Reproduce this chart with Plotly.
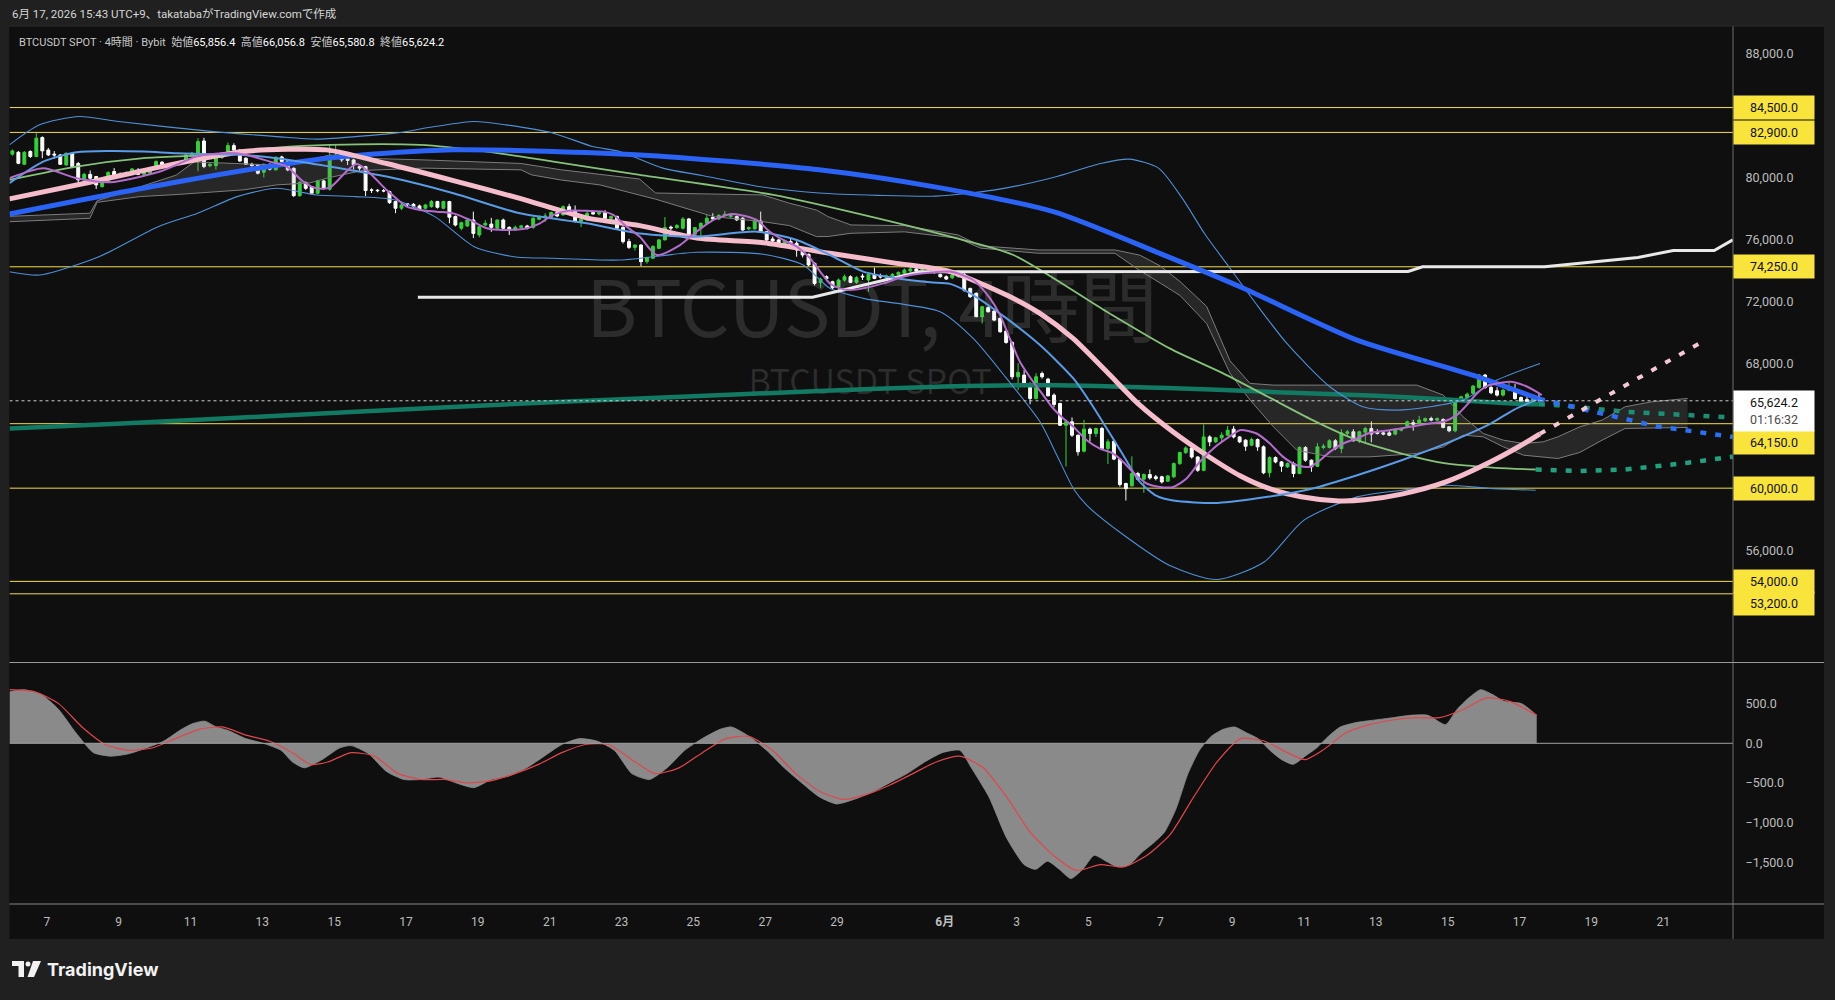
import pandas as pd
import plotly.graph_objects as go

W, H = 1835, 1000
FONT = "Roboto, 'Noto Sans CJK JP', 'DejaVu Sans', sans-serif"
JP = "'Noto Sans CJK JP', Roboto, sans-serif"

# ---------------- data ----------------
T0 = pd.Timestamp("2026-05-07 00:00")          # day offsets below are relative to this
candle_start = "2026-05-06 01:00"               # 4h candles (JST)

c_open = [81500, 81620, 80850, 81670, 81350, 82570, 81770, 81500, 81450, 80810,
          81560, 80900, 79840, 80200, 80060, 79410, 79730, 80380, 80160, 80230,
          80200, 80420, 80200, 80270, 80550, 80980, 80760, 80810, 80850, 81130,
          81450, 81500, 82350, 80760, 80760, 81280, 81670, 82050, 81770, 81240,
          80850, 80810, 80340, 80850, 80490, 81320, 81060, 80590, 78830, 79670,
          79410, 78980, 79780, 79240, 81350, 81450, 81200, 81130, 80700, 80700,
          79200, 79180, 79150, 79090, 78450, 78020, 78300, 78270, 78170, 78020,
          78120, 78450, 78020, 78450, 77480, 76730, 76880, 77260, 76300, 76940,
          77000, 76730, 77260, 76790, 76620, 76790, 76880, 76790, 77310, 77440,
          77440, 77740, 77590, 78120, 77870, 77160, 77260, 77740, 77650, 77740,
          77370, 77480, 76790, 75870, 75500, 75650, 74580, 74800, 75440, 75980,
          76800, 76770, 76730, 77330, 76340, 76770, 77050, 77420, 77330, 77550,
          77480, 77480, 77370, 76690, 76690, 77200, 76510, 76040, 75980, 75650,
          75870, 75760, 75330, 75050, 74470, 73250, 73610, 73290, 72970, 73400,
          73610, 73250, 73650, 73400, 73760, 73650, 73550, 73660, 73760, 73830,
          73980, 74110, 74040, 74150, 74040, 73760, 73610, 73550, 73610, 73760,
          72860, 72540, 71040, 71620, 71400, 70930, 70110, 69380, 67170, 67280,
          66740, 65770, 67380, 67020, 65990, 65450, 64050, 64270, 63410, 62380,
          63800, 63520, 63840, 62550, 63020, 61870, 60300, 60150, 60940, 60580,
          60880, 60730, 60730, 60450, 60730, 61580, 62290, 62590, 62010, 61150,
          63300, 62980, 63240, 63410, 63800, 63300, 63090, 62770, 63130, 62660,
          60990, 61970, 61690, 61370, 61590, 60940, 62620, 61800, 61410, 62620,
          62620, 63050, 62550, 63520, 63630, 63050, 63600, 63840, 63630, 63560,
          63560, 63480, 63730, 63990, 64210, 64160, 64330, 64480, 64380, 64420,
          63950, 63690, 65670, 65840, 66100, 66480, 67280, 66480, 66270, 65990,
          66310, 66350, 65840, 65710, 65560, 65856.4]
c_high = [81800, 81700, 81700, 81750, 82850, 82650, 81900, 81700, 81500, 81600,
          81600, 81000, 80300, 80450, 80100, 79800, 80400, 80600, 80350, 80400,
          80600, 80600, 80500, 80650, 81100, 81050, 80900, 80950, 81050, 81500,
          81650, 82530, 82550, 80900, 81300, 81500, 82250, 82200, 81800, 81300,
          80950, 80850, 80900, 80900, 81350, 81400, 81100, 80650, 79750, 79750,
          79450, 79850, 79850, 82100, 82100, 81650, 81650, 81200, 80750, 80750,
          79300, 79250, 79250, 79150, 78500, 78300, 78350, 78350, 78250, 78300,
          78550, 78500, 78500, 78500, 77550, 77150, 77300, 77800, 76900, 77250,
          77400, 77300, 77350, 76850, 76900, 76950, 76950, 77450, 77550, 77700,
          77800, 77800, 78200, 78300, 78200, 77400, 77900, 77800, 77850, 77900,
          77550, 77550, 76850, 76050, 75700, 75700, 74900, 75650, 76050, 77450,
          76900, 77000, 77450, 77400, 76800, 77100, 77600, 77700, 77650, 77850,
          77700, 77550, 77450, 76850, 77250, 77800, 76550, 76200, 76050, 76000,
          76100, 75900, 75400, 75100, 74550, 73550, 73700, 73350, 73500, 73750,
          73700, 73650, 73800, 73850, 74200, 73800, 73750, 73850, 73950, 74150,
          74250, 74200, 74250, 74250, 74100, 73800, 73700, 74050, 74050, 73850,
          72900, 72600, 71750, 71700, 71450, 71000, 70150, 69450, 68050, 67600,
          66800, 67400, 67500, 67100, 66100, 65500, 64400, 64550, 63450, 64400,
          63900, 63900, 63950, 63150, 63100, 61900, 60350, 62050, 61050, 60950,
          61200, 60850, 60800, 60850, 61650, 62350, 62700, 62650, 62050, 64100,
          63400, 63300, 63600, 64000, 64000, 63350, 63150, 63250, 63200, 62750,
          62050, 62050, 61750, 61650, 61700, 62700, 62700, 61850, 62900, 62850,
          63150, 63150, 63800, 63750, 63800, 63700, 63950, 64300, 63800, 63650,
          63700, 63850, 63900, 64350, 64400, 64650, 64550, 64600, 64550, 64500,
          64000, 65750, 65950, 66150, 66650, 67350, 67350, 66600, 66500, 66400,
          66800, 66700, 65900, 65900, 65850, 66056.8]
c_low = [81400, 80850, 80800, 81250, 81300, 81240, 81380, 81200, 80800, 80750,
         80600, 79700, 79700, 79850, 79260, 79350, 79650, 79950, 80050, 80150,
         80150, 80150, 80150, 80200, 80500, 80600, 80700, 80750, 80800, 80950,
         81400, 80400, 80600, 80650, 80500, 81200, 81600, 81700, 81000, 80800,
         80700, 80200, 80000, 80450, 80450, 80950, 80400, 78750, 78750, 79200,
         78900, 78900, 79200, 79150, 81300, 81000, 80800, 80500, 80400, 78800,
         79000, 79050, 79050, 78300, 77700, 77900, 78150, 78050, 77850, 77950,
         78050, 78000, 77950, 77050, 76850, 76600, 76800, 76100, 76150, 76850,
         76500, 76700, 76650, 76300, 76550, 76700, 76650, 76700, 77250, 77150,
         77350, 77450, 77550, 77800, 77100, 76800, 77200, 77600, 77550, 77300,
         77200, 76650, 75750, 75400, 75300, 74300, 74450, 74750, 75400, 75950,
         76600, 76700, 76650, 76300, 76250, 76100, 77000, 77250, 77250, 77500,
         77400, 77200, 76550, 76600, 76650, 76450, 75800, 75850, 75600, 75450,
         75700, 74900, 74850, 74300, 73050, 72900, 73400, 72800, 72750, 73300,
         73200, 73150, 73400, 72650, 73450, 73500, 73450, 73600, 73700, 73750,
         73900, 73900, 73950, 74000, 73800, 73550, 73400, 73450, 73550, 72650,
         72250, 71000, 70600, 71300, 70750, 70000, 69300, 67000, 66300, 66500,
         65400, 65700, 67050, 65900, 65200, 64000, 61400, 63300, 62100, 62300,
         63000, 63300, 62500, 61550, 61800, 60100, 59200, 60100, 60500, 59700,
         60550, 60500, 60300, 60400, 60650, 61500, 62200, 61900, 61050, 61100,
         62700, 62900, 63000, 63350, 63200, 62900, 62400, 62700, 62400, 60900,
         60700, 61600, 61050, 61300, 60700, 60900, 61700, 61050, 61350, 62500,
         62550, 62450, 62250, 63400, 63000, 62900, 62950, 62950, 63450, 63400,
         63350, 63400, 63650, 63900, 63700, 64100, 64250, 64300, 64300, 63850,
         63600, 63600, 65600, 65750, 66000, 66400, 66400, 66050, 65900, 65900,
         66250, 65700, 65500, 65500, 65500, 65580.8]
c_close = [81710, 80915, 81620, 81350, 82530, 81710, 81450, 81450, 80850, 81560,
           80700, 79840, 80200, 79950, 79520, 79730, 80315, 80160, 80230, 80290,
           80550, 80200, 80420, 80590, 81020, 80640, 80850, 80900, 80980, 81450,
           81560, 82310, 80700, 80850, 81240, 81410, 82050, 81770, 81060, 80850,
           80760, 80270, 80850, 80530, 81300, 81020, 80490, 78830, 79690, 79300,
           78980, 79780, 79300, 81340, 81450, 81130, 81100, 80810, 80600, 79155,
           79180, 79150, 79130, 78380, 78020, 78230, 78250, 78120, 77950, 78230,
           78450, 78080, 78450, 77440, 76940, 77090, 77260, 76400, 76830, 77050,
           76790, 77260, 76730, 76620, 76790, 76880, 76730, 77370, 77440, 77520,
           77740, 77520, 78120, 77870, 77160, 77310, 77690, 77650, 77740, 77370,
           77480, 76730, 75870, 75500, 75650, 74580, 74840, 75550, 75980, 76770,
           76750, 76900, 77330, 76340, 76770, 77050, 77370, 77330, 77550, 77630,
           77550, 77270, 76620, 76770, 77200, 76510, 75980, 75910, 75650, 75910,
           75760, 75330, 75010, 74370, 73180, 73460, 73500, 72900, 73400, 73610,
           73250, 73550, 73600, 73760, 73500, 73600, 73660, 73760, 73890, 74040,
           74110, 73980, 74150, 74100, 73890, 73610, 73460, 73720, 73760, 72750,
           72325, 71040, 71680, 71360, 70820, 70070, 69380, 67170, 67450, 66590,
           65770, 67170, 67170, 65950, 65390, 64050, 64270, 63410, 62340, 63800,
           63520, 63840, 62550, 62980, 61870, 60230, 59970, 60940, 60580, 60880,
           60660, 60620, 60400, 60790, 61580, 62290, 62590, 62010, 61150, 63300,
           62980, 63240, 63410, 63730, 63300, 62980, 62700, 63130, 62660, 60990,
           61970, 61690, 61415, 61590, 60940, 62620, 61800, 61370, 62660, 62700,
           63050, 62550, 63560, 63630, 63050, 63630, 63840, 63480, 63520, 63480,
           63410, 63780, 63840, 64270, 64120, 64380, 64480, 64380, 64480, 63910,
           63690, 65670, 65880, 66050, 66570, 67280, 66480, 66140, 65990, 66310,
           66420, 65770, 65560, 65560, 65770, 65624.2]

# indicator lines: (day offset from T0, price)
ma_blue = [(-1.04, 77650), (3.43, 79630), (7.79, 81240), (11.31, 81780), (16.51, 81450),
           (21.50, 80500), (24.76, 79380), (28.02, 77800), (31.0, 75100), (33.22, 72970),
           (36.48, 69530), (39.84, 67170), (41.54, 65750)]
ma_blue_proj = [(41.54, 65750), (43.07, 64910), (44.80, 63990), (46.94, 63300)]

ma_pink = [(-1.04, 78620), (1.20, 79690), (3.43, 80810), (5.47, 81670), (6.68, 81810),
           (7.79, 81775), (9.46, 80900), (11.32, 79800), (13.17, 78650), (15.03, 77400),
           (16.51, 76900), (18.09, 76100), (19.95, 75800), (21.80, 75120), (23.66, 74470),
           (25.15, 73940), (26.72, 72430), (27.65, 71250), (28.57, 69640), (29.51, 67490),
           (30.43, 65340), (31.35, 63630), (32.29, 62120), (33.22, 60800), (34.00, 60000),
           (34.92, 59450), (35.97, 59180), (36.70, 59250), (37.72, 59620), (38.95, 60400),
           (40.20, 61700), (41.00, 62700), (41.57, 63500)]
ma_pink_proj = [(41.57, 63500), (46.0, 69300)]

ma_purple = [(-1.04, 79950), (-0.10, 80590), (0.83, 79950), (1.76, 79690), (3.15, 80380),
             (4.17, 81345), (4.91, 81560), (5.47, 81500), (6.21, 81020), (6.68, 80700),
             (7.14, 79735), (7.51, 79305), (7.88, 79350), (8.63, 80870), (9.46, 79200),
             (10.02, 78120), (10.39, 77910), (10.85, 77800), (11.32, 77690), (11.78, 77265),
             (12.25, 76730), (12.71, 76620), (13.36, 76730), (13.73, 77050), (14.10, 77590),
             (14.57, 77870), (15.03, 77850), (15.49, 77800), (15.77, 77590), (16.14, 76835),
             (16.51, 76190), (16.98, 75010), (17.63, 75650), (18.09, 76510), (18.56, 77265),
             (19.02, 77630), (19.30, 77590), (19.76, 77265), (20.13, 76510), (20.50, 75980),
             (20.88, 75550), (21.25, 74800), (21.53, 73940), (21.80, 73180), (22.08, 72860),
             (22.36, 72750), (22.73, 72860), (23.29, 73180), (23.84, 73610), (24.40, 73830),
             (25.15, 73940), (25.79, 73400), (26.26, 72220), (26.54, 71140), (26.81, 69640),
             (27.09, 68140), (27.46, 66850), (27.74, 65990), (28.02, 65130), (28.30, 64490),
             (28.58, 63950), (28.95, 63090), (29.32, 62550), (29.69, 62230), (29.97, 61690),
             (30.25, 61000), (30.62, 60300), (30.99, 60080), (31.36, 60080), (31.73, 60620),
             (32.10, 61700), (32.48, 62560), (32.85, 63200), (33.22, 63730), (33.68, 63520),
             (34.05, 62875), (34.42, 62016), (34.80, 61479), (35.17, 61371), (35.45, 61801),
             (35.72, 62338), (36.09, 62875), (36.47, 63197), (36.84, 63562), (37.39, 63734),
             (37.95, 63949), (38.51, 64164), (38.88, 64271), (39.25, 64701), (39.53, 65345),
             (39.81, 66097), (40.09, 66570), (40.37, 66741), (40.74, 66849), (41.11, 66634),
             (41.48, 66204), (41.62, 65990)]

ma_midblue = [(-1.04, 79630), (-0.10, 81020), (0.83, 81625), (1.76, 81710), (2.69, 81670),
              (3.62, 81560), (4.54, 81500), (5.47, 81450), (6.40, 81240), (7.33, 80920),
              (7.88, 80700), (9.46, 80057), (11.32, 78983), (13.17, 77690), (15.03, 77050),
              (16.51, 76400), (18.09, 76191), (19.76, 76513), (20.88, 75976), (21.80, 75010),
              (22.73, 73936), (23.66, 73506), (24.59, 73248), (25.15, 73150), (25.79, 72432),
              (26.72, 70929), (27.65, 69210), (28.58, 67062), (29.04, 65559), (29.51, 63840),
              (29.97, 62122), (30.43, 60403), (30.90, 59500), (31.36, 59200), (32.60, 59050),
              (33.99, 59440), (35.24, 59980), (36.48, 60835), (37.72, 61800), (38.96, 62880),
              (40.21, 64170), (40.83, 65030), (41.45, 65670)]

bb_upper = [(-1.04, 82098), (-0.20, 83386), (0.90, 83921), (2.00, 83599), (4.64, 82954),
            (6.40, 82632), (7.50, 82465), (8.60, 82632), (9.70, 82852), (10.80, 83277),
            (11.90, 83599), (12.78, 83386), (14.10, 82852), (15.20, 81988), (15.95, 81670),
            (17.15, 80600), (18.24, 80130), (19.88, 79400), (21.50, 79000), (23.13, 78850),
            (24.76, 78800), (26.40, 79200), (28.02, 80000), (29.34, 80900), (30.13, 81180),
            (30.95, 80600), (31.60, 78700), (32.24, 76360), (32.91, 74250), (33.72, 71700),
            (34.53, 69300), (35.72, 66527), (36.64, 65238), (37.58, 65023), (38.51, 65238),
            (39.43, 65668), (40.37, 66957), (41.57, 68030)]
bb_lower = [(-1.04, 73935), (-0.20, 73720), (1.45, 74900), (3.10, 76834), (4.20, 77697),
            (5.30, 78766), (6.40, 79302), (7.50, 78876), (8.60, 78766), (9.70, 78554),
            (10.80, 77478), (11.90, 75545), (13.00, 74900), (14.10, 74798), (15.95, 74688),
            (18.09, 75182), (19.95, 75053), (21.06, 74366), (21.80, 72862), (22.73, 72218),
            (24.87, 71357), (25.79, 69640), (26.72, 67063), (27.65, 64270), (28.12, 62125),
            (28.58, 59980), (28.95, 58905), (29.97, 57000), (31.28, 55000), (32.58, 54120),
            (33.89, 55250), (35.00, 57940), (36.48, 59440), (37.72, 59870), (38.96, 60190),
            (40.20, 59980), (41.45, 59870)]

ma_green = [(-1.04, 79844), (0.83, 80700), (2.69, 81240), (4.54, 81450), (6.40, 81925),
            (7.88, 82100), (10.39, 82098), (12.25, 81668), (14.10, 81025), (16.51, 80165),
            (20.23, 78876), (22.73, 77590), (25.15, 76190), (26.91, 75010), (29.51, 71357),
            (31.26, 69000), (32.75, 67390), (34.00, 65880), (35.24, 64380), (36.48, 63090),
            (37.72, 62230), (38.95, 61590), (40.33, 61310), (41.45, 61200)]
ma_green_proj = [(41.45, 61200), (42.68, 61110), (43.94, 61200), (44.93, 61410),
                 (45.68, 61630), (46.94, 62030)]

ma_teal = [(-1.04, 63840), (1.95, 64150), (8.47, 64900), (14.34, 65560), (21.5, 66250),
           (25.0, 66550), (28.0, 66630), (31.2, 66450), (34.0, 66200), (37.0, 65950),
           (39.0, 65700), (40.8, 65450), (41.54, 65400)]
ma_teal_proj = [(41.54, 65400), (42.08, 65345), (43.94, 64920), (45.68, 64700), (46.94, 64550)]

white_line = [(10.33, 72285), (21.32, 72285), (24.30, 73935), (37.90, 73950), (38.30, 74250),
              (41.70, 74250), (44.30, 74850), (45.28, 75300), (46.42, 75300), (46.94, 75980)]

# cloud: (day, upper edge, lower edge)
cloud = [(-1.04, 77500, 77150), (1.2, 77700, 77370), (1.4, 78500, 78400), (2.6, 79400, 78770),
         (3.6, 80150, 78900), (4.1, 81000, 78980), (5.47, 80900, 79200), (6.4, 80800, 79520),
         (7.33, 81130, 79650), (7.88, 81450, 80000), (8.8, 81240, 80450), (10.5, 81130, 80600),
         (13.2, 80900, 80490), (13.5, 80800, 80165), (14.3, 80500, 79842), (15.4, 80200, 79520),
         (16.5, 79900, 78900), (16.95, 79000, 78600), (18.56, 78950, 77480), (19.93, 78876, 77158),
         (20.68, 78340, 76900), (21.43, 77900, 76191), (21.75, 77478, 76200), (22.39, 76943, 76407),
         (23.88, 76900, 76500), (25.37, 76300, 76086), (26.0, 75600, 75450), (27.6, 75332, 75120),
         (29.74, 75332, 75120), (30.43, 75000, 74000), (31.0, 74300, 73200), (31.55, 73300, 72400),
         (32.29, 71700, 70600), (32.57, 70200, 69200), (32.94, 68200, 67400), (33.5, 66742, 65668),
         (34.15, 66634, 63949), (34.80, 66634, 62445), (35.72, 66634, 62016), (36.84, 66634, 62016),
         (38.14, 66634, 62230), (38.88, 65990, 62660), (39.43, 64594, 63412), (39.99, 63520, 63305),
         (40.55, 63090, 62660), (41.11, 62875, 62124), (41.66, 62982, 62016), (42.07, 63305, 61908),
         (42.68, 63950, 62300), (43.3, 64380, 63090), (43.94, 65238, 63843), (44.68, 65560, 63880),
         (45.68, 65775, 63908)]

macd = [(-1.04, 647), (-0.65, 676), (-0.16, 617), (0.33, 426), (0.81, 132), (1.30, -118),
        (1.79, -162), (2.28, -132), (2.77, -59), (3.26, 29), (3.75, 176), (4.07, 250),
        (4.40, 279), (4.72, 206), (5.05, 162), (5.54, 59), (6.03, 0), (6.52, -88),
        (6.84, -235), (7.17, -309), (7.66, -206), (8.15, -59), (8.47, -29), (8.96, -132),
        (9.45, -353), (9.94, -456), (10.43, -456), (10.92, -426), (11.40, -500), (11.89, -559),
        (12.38, -456), (12.87, -412), (13.36, -309), (13.85, -162), (14.34, -15), (14.83, 59),
        (15.31, 29), (15.80, -88), (16.29, -382), (16.78, -456), (17.27, -309), (17.76, -88),
        (18.25, 59), (18.74, 176), (19.06, 206), (19.55, 88), (20.04, -88), (20.53, -309),
        (21.02, -500), (21.51, -676), (21.99, -764), (22.48, -706), (22.97, -617), (23.46, -500),
        (23.95, -382), (24.44, -235), (24.93, -118), (25.42, -88), (25.74, -309), (26.23, -676),
        (26.72, -1191), (27.21, -1529), (27.53, -1588), (27.86, -1485), (28.19, -1588),
        (28.51, -1705), (28.84, -1588), (29.16, -1411), (29.49, -1485), (29.81, -1558),
        (30.14, -1529), (30.47, -1382), (30.79, -1264), (31.12, -1117), (31.44, -823),
        (31.77, -382), (32.09, -88), (32.42, 88), (32.75, 176), (33.07, 206), (33.40, 132),
        (33.72, 59), (34.05, -88), (34.38, -206), (34.70, -265), (35.03, -162), (35.35, -59),
        (35.68, 88), (36.01, 206), (36.49, 265), (36.98, 294), (37.47, 323), (37.96, 353),
        (38.45, 353), (38.94, 235), (39.26, 426), (39.59, 573), (39.92, 676), (40.24, 617),
        (40.57, 529), (41.06, 500), (41.48, 353)]
signal = [(-1.04, 676), (-0.33, 650), (0.33, 500), (0.98, 206), (1.63, -15), (2.28, -88),
          (2.93, -59), (3.58, 59), (4.24, 176), (4.89, 206), (5.54, 103), (6.19, 29),
          (6.84, -118), (7.33, -265), (7.82, -235), (8.47, -118), (9.12, -162), (9.78, -382),
          (10.43, -456), (11.08, -456), (11.73, -500), (12.38, -470), (13.03, -382), (13.69, -265),
          (14.34, -118), (14.99, -15), (15.64, -15), (16.29, -206), (16.94, -382), (17.60, -309),
          (18.25, -118), (18.90, 59), (19.55, 88), (20.20, -88), (20.85, -382), (21.51, -603),
          (22.16, -706), (22.81, -647), (23.46, -529), (24.11, -382), (24.76, -235), (25.42, -162),
          (26.07, -309), (26.72, -676), (27.37, -1117), (28.02, -1411), (28.67, -1602),
          (29.33, -1529), (29.98, -1558), (30.63, -1411), (31.28, -1147), (31.93, -676),
          (32.58, -235), (33.24, 59), (33.89, 29), (34.54, -118), (35.03, -206), (35.52, -88),
          (36.17, 132), (36.82, 235), (37.47, 294), (38.12, 323), (38.77, 323), (39.43, 426),
          (40.08, 573), (40.73, 529), (41.48, 353)]

levels = [84500, 82900, 74250, 64150, 60000, 54000, 53200]
last_price = 65624.2
countdown = "01:16:32"
price_ticks = [88000, 80000, 76000, 72000, 68000, 56000]
macd_ticks = [500, 0, -500, -1000, -1500]
date_ticks = ["2026-05-07", "2026-05-09", "2026-05-11", "2026-05-13", "2026-05-15",
              "2026-05-17", "2026-05-19", "2026-05-21", "2026-05-23", "2026-05-25",
              "2026-05-27", "2026-05-29", "2026-06-01", "2026-06-03", "2026-06-05",
              "2026-06-07", "2026-06-09", "2026-06-11", "2026-06-13", "2026-06-15",
              "2026-06-17", "2026-06-19", "2026-06-21"]
date_labels = ["7", "9", "11", "13", "15", "17", "19", "21", "23", "25", "27", "29", "<b>6月</b>",
               "3", "5", "7", "9", "11", "13", "15", "17", "19", "21"]
header = "6月 17, 2026 15:43 UTC+9、takatabaがTradingView.comで作成"
ohlc_text = ("BTCUSDT SPOT · 4時間 · Bybit&nbsp;&nbsp;始値<span style='color:#ffffff'>65,856.4</span>"
             "&nbsp;&nbsp;高値<span style='color:#ffffff'>66,056.8</span>"
             "&nbsp;&nbsp;安値<span style='color:#ffffff'>65,580.8</span>"
             "&nbsp;&nbsp;終値<span style='color:#ffffff'>65,624.2</span>")

assert len(c_open) == len(c_high) == len(c_low) == len(c_close) == 256


# ---------------- helpers ----------------
def T(days):
    return [T0 + pd.Timedelta(days=float(d)) for d in days]


def xy(pts):
    return T([p[0] for p in pts]), [p[1] for p in pts]


PL, PR = 9.5, 1733.0
MAIN_T, MAIN_B = 26.0, 662.0
SUB_T, SUB_B = 663.0, 904.0
YR = [48810, 89750]
Y2R = [-2025, 1012]
XR = [T0 + pd.Timedelta(days=-1.0384), T0 + pd.Timedelta(days=46.944)]


def px(x):
    return x / W


def py(y):
    return 1 - y / H


fig = go.Figure()


def line(pts, color, width, dash=None, shape="spline", smoothing=0.7, axes=("x", "y")):
    x, y = xy(pts)
    fig.add_trace(go.Scatter(x=x, y=y, mode="lines", xaxis=axes[0], yaxis=axes[1],
                             line=dict(color=color, width=width, dash=dash, shape=shape,
                                       smoothing=smoothing if shape == "spline" else None),
                             hoverinfo="skip", showlegend=False))


# watermark (kept under the other scatter layers)
fig.add_trace(go.Scatter(x=T([22.97]), y=[70957], mode="text", text=["BTCUSDT, 4時間"],
                         textfont=dict(family=JP, size=78, color="rgba(255,255,255,0.12)"),
                         hoverinfo="skip", showlegend=False))
fig.add_trace(go.Scatter(x=T([22.92]), y=[66584], mode="text", text=["BTCUSDT SPOT"],
                         textfont=dict(family=JP, size=34, color="rgba(255,255,255,0.12)"),
                         hoverinfo="skip", showlegend=False))

# cloud
cx = T([c[0] for c in cloud])
fig.add_trace(go.Scatter(x=cx, y=[c[2] for c in cloud], mode="lines",
                         line=dict(color="#7c7c7c", width=1), hoverinfo="skip", showlegend=False))
fig.add_trace(go.Scatter(x=cx, y=[c[1] for c in cloud], mode="lines", fill="tonexty",
                         fillcolor="rgba(150,150,150,0.18)",
                         line=dict(color="#7c7c7c", width=1), hoverinfo="skip", showlegend=False))

# moving averages / bands
line(ma_teal, "#127a63", 4.5)
line(ma_teal_proj, "#1a8f74", 4.5, dash="6px,9px", shape="linear")
line(bb_upper, "#4f8fd8", 1.1)
line(bb_lower, "#4f8fd8", 1.1)
line(ma_green, "#86c27a", 1.8)
line(ma_green_proj, "#1fa37f", 4.5, dash="6px,9px", shape="linear")
line(white_line, "#e8e8e8", 3, shape="linear")
line(ma_blue, "#2a63f5", 5)
line(ma_blue_proj, "#2a6ff5", 4.5, dash="6px,9px", shape="linear")
line(ma_pink, "#f5bccb", 5)
line(ma_pink_proj, "#f5c8d3", 4, dash="6px,10px", shape="linear")
line(ma_midblue, "#5a9be6", 2)

# candles
ct = pd.date_range(candle_start, periods=len(c_open), freq="4h")
fig.add_trace(go.Candlestick(x=ct, open=c_open, high=c_high, low=c_low, close=c_close,
                             increasing=dict(line=dict(color="#36d13a", width=1), fillcolor="#36d13a"),
                             decreasing=dict(line=dict(color="#ffffff", width=1), fillcolor="#ffffff"),
                             whiskerwidth=0, hoverinfo="skip", showlegend=False))

line(ma_purple, "#b46ccc", 2)

# lower pane
mx, mv = xy(macd)
fig.add_trace(go.Scatter(x=mx, y=mv, mode="lines", xaxis="x2", yaxis="y2", fill="tozeroy",
                         fillcolor="#8a8a8a", line=dict(color="#8f8f8f", width=0.8, shape="spline", smoothing=0.6),
                         hoverinfo="skip", showlegend=False))
line(signal, "#e0474c", 1.2, axes=("x2", "y2"), smoothing=0.6)

# ---------------- shapes ----------------
shapes = [
    dict(type="rect", xref="paper", yref="paper", x0=px(9.5), x1=px(1824), y0=py(939), y1=py(26),
         fillcolor="#0f0f0f", line=dict(width=0), layer="below"),
]
for lv in levels:
    shapes.append(dict(type="line", xref="x", yref="y", x0=XR[0], x1=XR[1], y0=lv, y1=lv,
                       line=dict(color="#f3df45", width=1), layer="below"))
shapes.append(dict(type="line", xref="x", yref="y", x0=XR[0], x1=XR[1], y0=last_price, y1=last_price,
                   line=dict(color="#cfcfcf", width=1, dash="dot")))
shapes.append(dict(type="line", xref="x2", yref="y2", x0=XR[0], x1=XR[1], y0=0, y1=0,
                   line=dict(color="#a0a0a0", width=1)))
# separators
shapes += [
    dict(type="line", xref="paper", yref="paper", x0=px(PR), x1=px(PR), y0=py(939), y1=py(26),
         line=dict(color="#6e6e6e", width=1)),
    dict(type="line", xref="paper", yref="paper", x0=px(9.5), x1=px(1824), y0=py(662.5), y1=py(662.5),
         line=dict(color="#9a9a9a", width=1)),
    dict(type="line", xref="paper", yref="paper", x0=px(9.5), x1=px(1824), y0=py(904), y1=py(904),
         line=dict(color="#8a8a8a", width=1)),
    dict(type="line", xref="paper", yref="paper", x0=px(9.5), x1=px(1824), y0=py(26), y1=py(26),
         line=dict(color="#2c2c2c", width=1)),
]
# TradingView logo
logo_c = "#f2f2f2"
shapes += [
    dict(type="rect", xref="paper", yref="paper", x0=px(12), x1=px(24), y0=py(966), y1=py(961),
         fillcolor=logo_c, line=dict(width=0)),
    dict(type="rect", xref="paper", yref="paper", x0=px(18.5), x1=px(24), y0=py(977), y1=py(961),
         fillcolor=logo_c, line=dict(width=0)),
    dict(type="circle", xref="paper", yref="paper", x0=px(25.5), x1=px(30.5), y0=py(966.5), y1=py(961.5),
         fillcolor=logo_c, line=dict(width=0)),
    dict(type="path", xref="paper", yref="paper",
         path=f"M {px(33)} {py(961)} L {px(41)} {py(961)} L {px(34)} {py(977)} L {px(27.5)} {py(977)} Z",
         fillcolor=logo_c, line=dict(width=0)),
]

# ---------------- annotations ----------------
ann = []
label_shift = {64150: -19, 53200: -10}
for lv in levels:
    ann.append(dict(xref="paper", yref="y", x=px(PR), y=lv, xanchor="left", yanchor="middle",
                    yshift=label_shift.get(lv, 0), text=f"{lv:,.1f}", showarrow=False,
                    bgcolor="#f8e43a", width=78, height=21, borderpad=1, align="center",
                    font=dict(family=FONT, size=12.5, color="#111111")))
ann.append(dict(xref="paper", yref="y", x=px(PR), y=last_price, xanchor="left", yanchor="middle",
                yshift=-10, text=f"{last_price:,.1f}<br><span style='color:#4a4a4a'>{countdown}</span>",
                showarrow=False, bgcolor="#ffffff", width=78, height=38, borderpad=1, align="center",
                font=dict(family=FONT, size=12.5, color="#111111")))
ann.append(dict(xref="paper", yref="paper", x=px(10), y=py(14), xanchor="left", yanchor="middle",
                text=header, showarrow=False, font=dict(family=FONT, size=11.5, color="#d6d6d6")))
ann.append(dict(xref="paper", yref="paper", x=px(17), y=py(42), xanchor="left", yanchor="middle",
                text=ohlc_text, showarrow=False, font=dict(family=FONT, size=11, color="#c9c9c9")))
ann.append(dict(xref="paper", yref="paper", x=px(45), y=py(969.5), xanchor="left", yanchor="middle",
                text="<b>TradingView</b>", showarrow=False,
                font=dict(family="Inter, Roboto, sans-serif", size=18, color="#f2f2f2")))

fig.update_layout(
    width=W, height=H, margin=dict(l=0, r=0, t=0, b=0),
    paper_bgcolor="#202020", plot_bgcolor="#0f0f0f",
    showlegend=False, hovermode=False,
    shapes=shapes, annotations=ann,
    xaxis=dict(domain=[px(PL), px(PR)], anchor="y", type="date", range=XR, showticklabels=False,
               showgrid=False, zeroline=False, showline=False, rangeslider=dict(visible=False),
               fixedrange=True),
    xaxis2=dict(domain=[px(PL), px(PR)], anchor="y2", type="date", range=XR, matches="x",
                tickvals=date_ticks, ticktext=date_labels, ticks="outside", ticklen=7,
                tickcolor="rgba(0,0,0,0)", showgrid=False, zeroline=False, showline=False,
                tickfont=dict(family=FONT, size=12, color="#bdbdbd")),
    yaxis=dict(domain=[py(MAIN_B), py(MAIN_T)], anchor="x", side="right", range=YR,
               tickvals=price_ticks, ticktext=[f"{v:,.1f}" for v in price_ticks],
               ticks="outside", ticklen=9, tickcolor="rgba(0,0,0,0)",
               showgrid=False, zeroline=False, showline=False,
               tickfont=dict(family=FONT, size=12.5, color="#bdbdbd")),
    yaxis2=dict(domain=[py(SUB_B), py(SUB_T)], anchor="x2", side="right", range=Y2R,
                tickvals=macd_ticks,
                ticktext=[f"{v:,.1f}".replace("-", "−") for v in macd_ticks],
                ticks="outside", ticklen=9, tickcolor="rgba(0,0,0,0)",
                showgrid=False, zeroline=False, showline=False,
                tickfont=dict(family=FONT, size=12.5, color="#bdbdbd")),
)

fig.write_html("out.html")
